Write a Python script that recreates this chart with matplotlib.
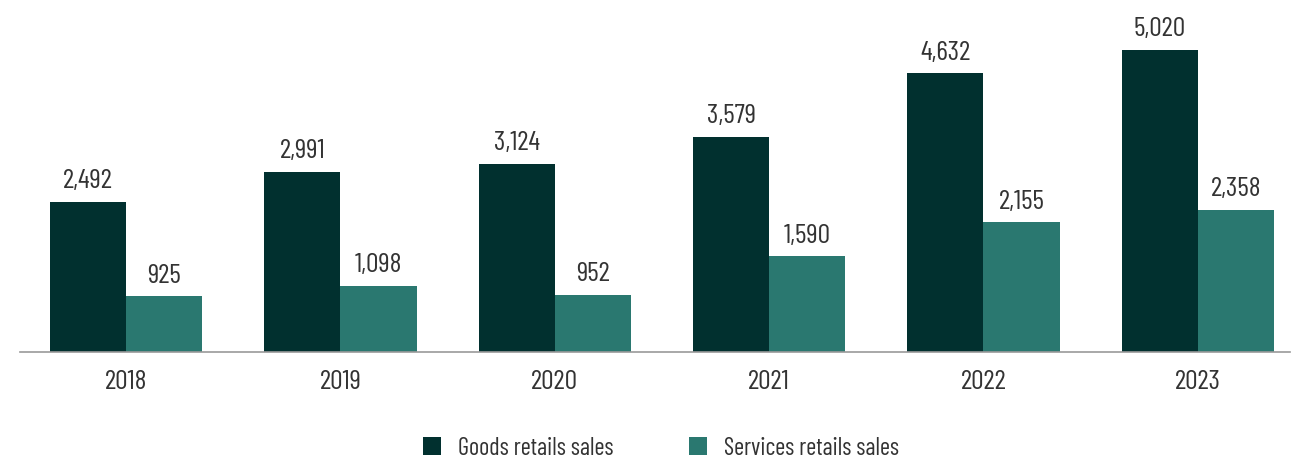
import numpy as np
import matplotlib.pyplot as plt
from matplotlib import font_manager

years = ['2018', '2019', '2020', '2021', '2022', '2023']
goods = [2492, 2991, 3124, 3579, 4632, 5020]
services = [925, 1098, 952, 1590, 2155, 2358]

names = {f.name for f in font_manager.fontManager.ttflist}
family = next((f for f in ('Barlow Condensed', 'Roboto Condensed', 'Asap Condensed')
               if f in names), 'DejaVu Sans')
plt.rcParams['font.family'] = [family, 'DejaVu Sans']

DARK = '#01302f'
TEAL = '#2a7870'
TEXT = '#333333'

fig = plt.figure(figsize=(12.91, 4.60), dpi=100)
ax = fig.add_axes([20 / 1291, 107 / 460, 1270 / 1291, 353 / 460])

x = np.arange(len(years))
w = 0.355
b1 = ax.bar(x - w / 2, goods, w, color=DARK, label='Goods retails sales')
b2 = ax.bar(x + w / 2, services, w, color=TEAL, label='Services retails sales')

for bars, vals in ((b1, goods), (b2, services)):
    for r, v in zip(bars, vals):
        ax.annotate(f'{v:,}', (r.get_x() + r.get_width() / 2, v),
                    xytext=(0, 7), textcoords='offset points',
                    ha='center', va='bottom', fontsize=20, color=TEXT)

ax.set_xlim(-0.495, 5.43)
ax.set_ylim(0, 5870)
ax.set_xticks(x)
ax.set_xticklabels(years, fontsize=20, color=TEXT)
ax.tick_params(axis='x', length=0, pad=12)
ax.set_yticks([])
for s in ('top', 'right', 'left'):
    ax.spines[s].set_visible(False)
ax.spines['bottom'].set_color('#999999')
ax.spines['bottom'].set_linewidth(1.2)

fig.legend(loc='center', bbox_to_anchor=(0.512, 0.024), ncol=2, frameon=False,
           fontsize=17.5, handlelength=0.75, handleheight=0.75, columnspacing=3.1,
           handletextpad=0.7, labelcolor=TEXT)

fig.savefig('out.png', dpi=100)
